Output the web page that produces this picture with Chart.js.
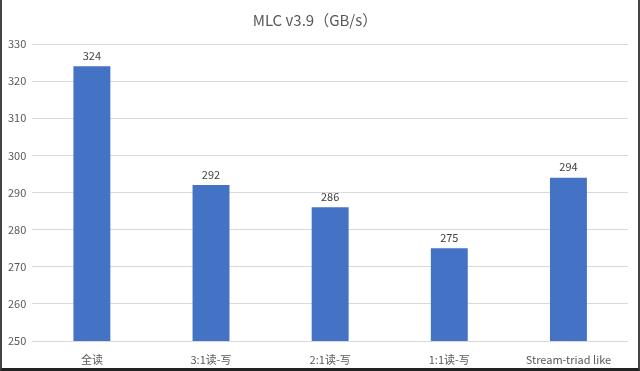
<!DOCTYPE html>
<html>
<head>
<meta charset="utf-8">
<script src="https://cdn.jsdelivr.net/npm/chart.js@4/dist/chart.umd.min.js"></script>
<style>
  html, body { margin:0; padding:0; background:#fff; }
  #wrap { position:relative; width:636px; height:368px; border:2px solid #444; border-top:0; border-bottom:3px solid #222; }
</style>
</head>
<body>
<div id="wrap"><canvas id="c"></canvas></div>
<script>
// MLC bandwidth chart
const categories = ['全读', '3:1读-写', '2:1读-写', '1:1读-写', 'Stream-triad like'];
const bandwidth = [324, 292, 286, 275, 294];
const yMin = 250, yMax = 330, yStep = 10;

const FONT = '"Noto Sans CJK SC", "Noto Sans", sans-serif';

// simple value labels above bars
const barLabels = {
  id: 'barLabels',
  afterDatasetsDraw(chart){
    const ctx = chart.ctx;
    const meta = chart.getDatasetMeta(0);
    ctx.save();
    ctx.font = '11px ' + FONT;
    ctx.fillStyle = '#404040';
    ctx.textAlign = 'center';
    ctx.textBaseline = 'bottom';
    meta.data.forEach((bar, i) => {
      ctx.fillText(String(bandwidth[i]), bar.x, bar.y - 5);
    });
    ctx.restore();
  }
};

new Chart(document.getElementById('c'), {
  type: 'bar',
  data: {
    labels: categories,
    datasets: [{
      data: bandwidth,
      backgroundColor: '#4472C4',
      categoryPercentage: 1,
      barPercentage: 0.31
    }]
  },
  options: {
    responsive: true,
    maintainAspectRatio: false,
    animation: false,
    layout: { padding: { left: 0, right: 10, top: 0, bottom: 0 } },
    plugins: {
      legend: { display: false },
      tooltip: { enabled: false },
      title: {
        display: true,
        text: 'MLC v3.9（GB/s）',
        color: '#595959',
        font: { family: FONT, size: 15, weight: 'normal' },
        padding: { top: 11, bottom: 15 }
      }
    },
    scales: {
      x: {
        grid: { display: false },
        border: { display: false },
        ticks: { color: '#595959', font: { family: FONT, size: 11 }, padding: 4 },
        afterFit(scale){ scale.height = 27; }
      },
      y: {
        min: yMin, max: yMax,
        ticks: { stepSize: yStep, color: '#595959', font: { family: FONT, size: 11 }, padding: 6 },
        grid: { color: '#d9d9d9', drawTicks: false },
        border: { display: false }
      }
    }
  },
  plugins: [barLabels]
});
</script>
</body>
</html>
